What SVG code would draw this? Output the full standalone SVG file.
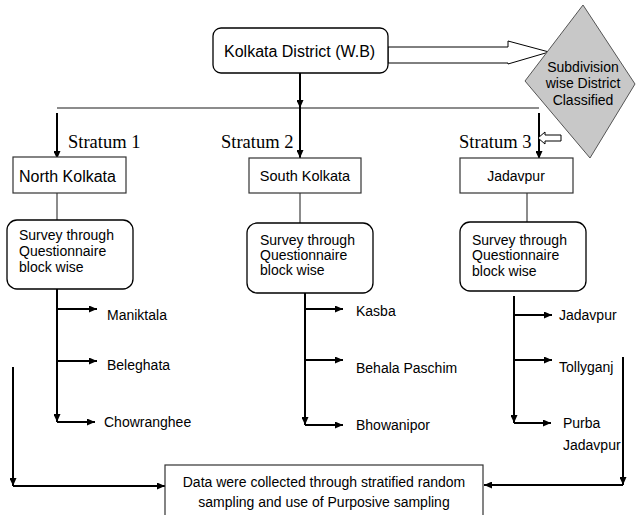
<svg xmlns="http://www.w3.org/2000/svg" width="636" height="515" viewBox="0 0 636 515">
<style>
text{font-family:"Liberation Sans",Arial,sans-serif;fill:#000}
.t14{font-size:14px}
.st{font-family:"Liberation Serif","Times New Roman",serif;font-size:18.5px}
.box{fill:#fff;stroke:#333;stroke-width:1.2}
.rbox{fill:#fff;stroke:#000;stroke-width:1.3}
.thick{fill:none;stroke:#000;stroke-width:2}
.gray{fill:none;stroke:#666;stroke-width:1.5}
.hollow{fill:#fff;stroke:#000;stroke-width:1}
</style>
<defs>
<marker id="ah" viewBox="0 0 8 7" refX="8" refY="3.5" markerWidth="8" markerHeight="7" markerUnits="userSpaceOnUse" orient="auto">
<path d="M0,0 L8,3.5 L0,7 z" fill="#000"/>
</marker>
</defs>

<g id="connectors">
<line class="gray" x1="57" y1="108" x2="539" y2="108"/>
<path class="thick" d="M300,73 L300,108" marker-end="url(#ah)"/>
<path class="thick" d="M300,108 L300,158" marker-end="url(#ah)"/>
<path class="thick" d="M57,113 L57,159" marker-end="url(#ah)"/>
<path class="thick" d="M539,113 L539,159" marker-end="url(#ah)"/>
<polygon class="hollow" points="388,47 508,47 508,41 549,52 508,64 508,63 388,63"/>
<polygon class="hollow" points="538,138 545,132 545,135 561,135 561,141 545,141 545,144"/>
<line class="gray" x1="57" y1="193" x2="57" y2="220"/>
<line class="gray" x1="300" y1="193" x2="300" y2="223"/>
<line class="gray" x1="527" y1="193" x2="527" y2="222"/>
<path class="thick" d="M57,289 L57,422" marker-end="url(#ah)"/>
<path class="thick" d="M57,309 L97,309" marker-end="url(#ah)"/>
<path class="thick" d="M57,361 L97,361" marker-end="url(#ah)"/>
<path class="thick" d="M57,422 L95,422" marker-end="url(#ah)"/>
<path class="thick" d="M305,293 L305,425" marker-end="url(#ah)"/>
<path class="thick" d="M305,309 L343,309" marker-end="url(#ah)"/>
<path class="thick" d="M305,360 L343,360" marker-end="url(#ah)"/>
<path class="thick" d="M305,425 L343,425" marker-end="url(#ah)"/>
<path class="thick" d="M514,296 L514,423" marker-end="url(#ah)"/>
<path class="thick" d="M514,315 L552,315" marker-end="url(#ah)"/>
<path class="thick" d="M514,360 L552,360" marker-end="url(#ah)"/>
<path class="thick" d="M514,423 L551,423" marker-end="url(#ah)"/>
<path class="thick" d="M13,367 L13,486" marker-end="url(#ah)"/>
<path class="thick" d="M13,486 L165,486" marker-end="url(#ah)"/>
<path class="thick" d="M623,357 L623,485" marker-end="url(#ah)"/>
<path class="thick" d="M623,485 L484,485" marker-end="url(#ah)"/>
</g>

<g id="kolkata">
<rect class="rbox" x="213" y="28" width="175" height="45" rx="8"/>
<text x="224" y="57" font-size="16">Kolkata District (W.B)</text>
</g>

<g id="diamond">
<polygon points="583,5 635,84 590,158 525,81" fill="#c8c8c8" stroke="#555" stroke-width="1"/>
<text class="t14" x="583" y="72" text-anchor="middle">Subdivision</text>
<text class="t14" x="583" y="88" text-anchor="middle">wise District</text>
<text class="t14" x="583" y="105" text-anchor="middle">Classified</text>
</g>

<g id="strata">
<text class="st" x="68" y="148">Stratum 1</text>
<text class="st" x="221" y="148">Stratum 2</text>
<text class="st" x="459" y="148">Stratum 3</text>
</g>

<g id="north">
<rect class="box" x="13" y="157" width="113" height="36"/>
<text x="19" y="182" font-size="16">North Kolkata</text>
</g>
<g id="south">
<rect class="box" x="249" y="158" width="112" height="35"/>
<text x="305" y="181" font-size="14.5" text-anchor="middle">South Kolkata</text>
</g>
<g id="jadavpur">
<rect class="box" x="460" y="158" width="113" height="35"/>
<text class="t14" x="516" y="181" text-anchor="middle">Jadavpur</text>
</g>

<g id="survey1">
<rect class="rbox" x="7" y="220" width="126" height="69" rx="10"/>
<text class="t14" x="19" y="240">Survey through</text>
<text class="t14" x="19" y="256">Questionnaire</text>
<text class="t14" x="19" y="272">block wise</text>
</g>
<g id="survey2">
<rect class="rbox" x="247" y="223" width="126" height="70" rx="10"/>
<text class="t14" x="260" y="245">Survey through</text>
<text class="t14" x="260" y="260">Questionnaire</text>
<text class="t14" x="260" y="275">block wise</text>
</g>
<g id="survey3">
<rect class="rbox" x="460" y="222" width="126" height="69" rx="10"/>
<text class="t14" x="472" y="245">Survey through</text>
<text class="t14" x="472" y="260">Questionnaire</text>
<text class="t14" x="472" y="276">block wise</text>
</g>

<g id="blocks">
<text class="t14" x="107" y="320">Maniktala</text>
<text class="t14" x="107" y="370">Beleghata</text>
<text class="t14" x="104" y="427">Chowranghee</text>
<text class="t14" x="356" y="316">Kasba</text>
<text class="t14" x="356" y="373">Behala Paschim</text>
<text class="t14" x="356" y="430">Bhowanipor</text>
<text class="t14" x="559" y="320">Jadavpur</text>
<text class="t14" x="559" y="372">Tollyganj</text>
<text class="t14" x="563" y="428">Purba</text>
<text class="t14" x="563" y="450">Jadavpur</text>
</g>

<g id="data">
<rect class="box" x="165" y="465" width="318" height="55"/>
<text class="t14" x="324" y="487" text-anchor="middle">Data were collected through stratified random</text>
<text class="t14" x="324" y="507" text-anchor="middle">sampling and use of Purposive sampling</text>
</g>
</svg>
